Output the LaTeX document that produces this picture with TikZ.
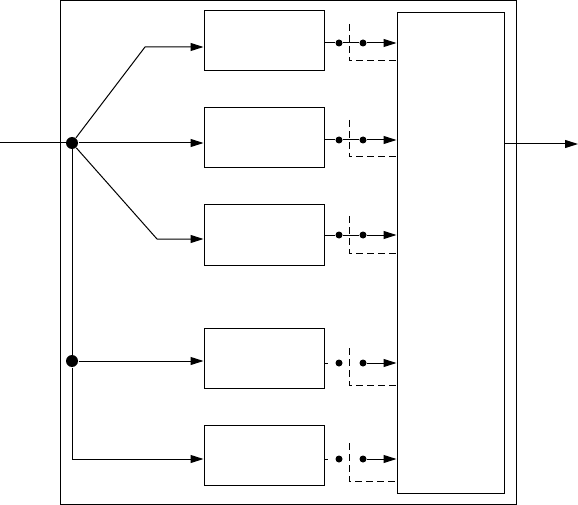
\documentclass[tikz,border=0pt]{standalone}
\usepackage{tikz}
\usetikzlibrary{arrows.meta,positioning,calc}

\begin{document}
\begin{tikzpicture}[x=1pt,y=-1pt,line width=1pt,node distance=36pt,
  every node/.style={inner sep=0pt}]
\tikzset{blk/.style={draw,minimum width=120pt,minimum height=60pt},
  junc/.style={circle,fill,minimum size=12pt},
  swdot/.style={circle,fill,minimum size=7pt},
  sig/.style={-{Triangle[length=13pt,width=8pt]}},
  ctl/.style={dash pattern=on 7pt off 4pt}}
\useasboundingbox (0,0) rectangle (578,505);
% frame and combiner
\node[draw,minimum width=456pt,minimum height=503pt] (frame) at (288,252.5) {};
\node[draw,minimum width=107pt,minimum height=480pt] (comb) at (450.5,253) {};
% channel blocks
\node[blk] (b1) at (264,41) {};
\node[blk,below=of b1] (b2) {};
\node[blk,below=of b2] (b3) {};
\node[blk,below=62pt of b3] (b4) {};
\node[blk,below=of b4] (b5) {};
% input splitting
\coordinate (in) at (0,143);
\node[junc] (j1) at (72,143) {};
\node[junc] (j2) at (72,361) {};
\coordinate (k1) at (145,47);
\coordinate (k3) at (157,239);
\coordinate (k5) at (72,459);
\draw (in) -- (j1);
\draw[sig] (j1) -- (k1) -- (b1.west |- k1);
\draw[sig] (j1) -- (b2.west |- j1);
\draw[sig] (j1) -- (k3) -- (b3.west |- k3);
\draw (j1) -- (j2);
\draw[sig] (j2) -- (b4.west |- j2);
\draw[sig] (j2) -- (k5) -- (b5.west |- k5);
% switches, closed
\foreach \i/\y/\t/\b in {1/43/24/61,2/140/120/157,3/235/216/253}{
  \node[swdot] (sa\i) at (339,\y) {};
  \node[swdot] (sb\i) at (363,\y) {};
  \draw (b\i.east |- sa\i) -- (sa\i) -- (sb\i);
  \draw[sig] (sb\i) -- (comb.west |- sb\i);
  \draw[ctl] (349,\t) -- (349,\b) -- (comb.west |- 0,\b);
}
% switches, open
\foreach \i/\y/\t/\b in {4/363/348/385,5/459/443/481}{
  \node[swdot] (sa\i) at (339,\y) {};
  \node[swdot] (sb\i) at (363,\y) {};
  \draw (b\i.east |- sa\i) -- ++(3,0);
  \draw[sig] (sb\i) -- (comb.west |- sb\i);
  \draw[ctl] (349,\t) -- (349,\b) -- (comb.west |- 0,\b);
}
% output
\coordinate (out) at (578,144);
\draw[sig] (comb.east |- out) -- (out);
\end{tikzpicture}
\end{document}
